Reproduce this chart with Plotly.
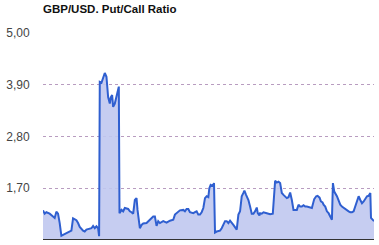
import plotly.graph_objects as go

# x positions (sampling index along the period) and Put/Call ratio values
t = [0, 5, 10, 20, 30, 35, 40, 45, 50, 55, 60, 70, 80, 85, 90, 95, 100, 105, 110, 120,
     125, 130, 140, 145, 150, 155, 160, 165, 168, 170, 175, 180, 185, 190, 192, 195, 200,
     203, 207, 210, 215, 220, 225, 227, 229, 235, 240, 245, 255, 260, 265, 270, 275, 280,
     283, 288, 290, 295, 300, 310, 315, 320, 325, 330, 335, 340, 345, 350, 360, 370, 380,
     390, 395, 400, 405, 410, 420, 425, 430, 435,
     440, 450, 455, 460, 465, 470, 475, 480, 485, 490, 495, 498, 502, 508, 512, 515, 520,
     530, 535, 540, 545, 550, 555, 560, 565, 570, 580, 585, 590, 595, 600, 603, 608, 615,
     620, 625, 630, 635, 640, 643, 648, 650, 655, 660, 670, 680, 688, 692, 695, 700, 705,
     710, 715, 720, 725, 730, 735, 740, 745, 750, 760, 765, 770, 775, 780, 785, 790, 800,
     805, 812, 818, 822, 828, 832, 837, 840, 845, 850, 855, 860, 865, 868, 872, 880, 885,
     890, 895, 900, 910, 915, 920, 925, 930, 935, 940, 945, 950, 955, 960, 965, 970, 975,
     980, 982, 988, 991]
ratio = [1.23, 1.16, 1.19, 1.16, 1.10, 1.07, 1.20, 1.16, 0.96, 0.69, 0.71, 0.75, 0.78, 0.80,
         1.06, 1.03, 1.02, 0.96, 0.88, 0.80, 0.78, 0.82, 0.85, 0.85, 0.90, 0.85, 0.89, 0.85,
         0.68, 3.96, 3.94, 4.07, 4.15, 4.07, 3.86, 3.64, 3.50, 3.63, 3.68, 3.43, 3.50, 3.64,
         3.84, 3.86, 1.17, 1.24, 1.21, 1.28, 1.26, 1.21, 1.19, 1.16, 1.45, 1.49, 1.24, 0.89,
         0.85, 0.92, 0.95, 0.96, 1.00, 1.03, 1.07, 1.10, 1.10, 0.90, 1.00, 0.96, 1.00, 0.97,
         1.01, 1.03, 1.14, 1.17, 1.19, 1.23, 1.24, 1.21, 1.26, 1.26,
         1.19, 1.17, 1.19, 1.21, 1.14, 1.14, 1.19, 1.28, 1.49, 1.53, 1.51, 1.70, 1.77, 1.75,
         1.81, 0.76, 0.78, 0.80, 0.85, 0.92, 1.00, 1.00, 0.96, 1.01, 0.95, 0.92, 0.82, 1.14,
         1.21, 1.53, 1.60, 1.65, 1.56, 1.45, 1.31, 1.16, 1.16, 1.21, 1.29, 1.17, 1.12, 1.17,
         1.16, 1.19, 1.17, 1.15, 1.16, 1.60, 1.86, 1.82, 1.84, 1.81, 1.60, 1.56, 1.53, 1.49,
         1.51, 1.61, 1.45, 1.24, 1.24, 1.35, 1.31, 1.31, 1.34, 1.31, 1.31, 1.30, 1.28, 1.47,
         1.53, 1.54, 1.50, 1.42, 1.40, 1.35, 1.31, 1.21, 1.17, 1.10, 1.03, 1.81, 1.63, 1.53,
         1.45, 1.35, 1.31, 1.28, 1.24, 1.21, 1.19, 1.19, 1.21, 1.31, 1.42, 1.53, 1.45, 1.38,
         1.42, 1.47, 1.53, 1.54, 1.60, 1.07, 1.02, 1.00]

tick_vals = [0.60, 1.70, 2.80, 3.90, 5.00]
tick_text = ["0,60", "1,70", "2,80", "3,90", "5,00"]

fig = go.Figure()
fig.add_trace(go.Scatter(
    x=t, y=ratio, mode="lines",
    line=dict(color="#2f5fd0", width=2),
    fill="tozeroy", fillcolor="rgba(192,200,240,0.9)",
    hoverinfo="skip",
))

fig.update_layout(
    width=379, height=245,
    margin=dict(l=43, r=5, t=33, b=5),
    paper_bgcolor="white", plot_bgcolor="white",
    showlegend=False,
    title=dict(text="<b>GBP/USD. Put/Call Ratio</b>", x=43/379, xanchor="left",
               y=1 - 9/245, yanchor="middle",
               font=dict(family="Arial, Liberation Sans", size=11.5, color="#111")),
)
fig.update_xaxes(range=[0, 991], showgrid=False, showticklabels=False, zeroline=False,
                 showline=False, fixedrange=True)
fig.update_yaxes(range=[0.6, 5.0], tickvals=tick_vals, ticktext=tick_text,
                 showgrid=True, gridcolor="#b89cc0", griddash="dot", gridwidth=1,
                 zeroline=False, showline=False, ticks="outside", ticklen=10,
                 tickcolor="rgba(0,0,0,0)",
                 tickfont=dict(family="Arial, Liberation Sans", size=12, color="#444"))
fig.add_hline(y=0.6, line=dict(color="#333", width=2))

fig.write_html("out.html")
